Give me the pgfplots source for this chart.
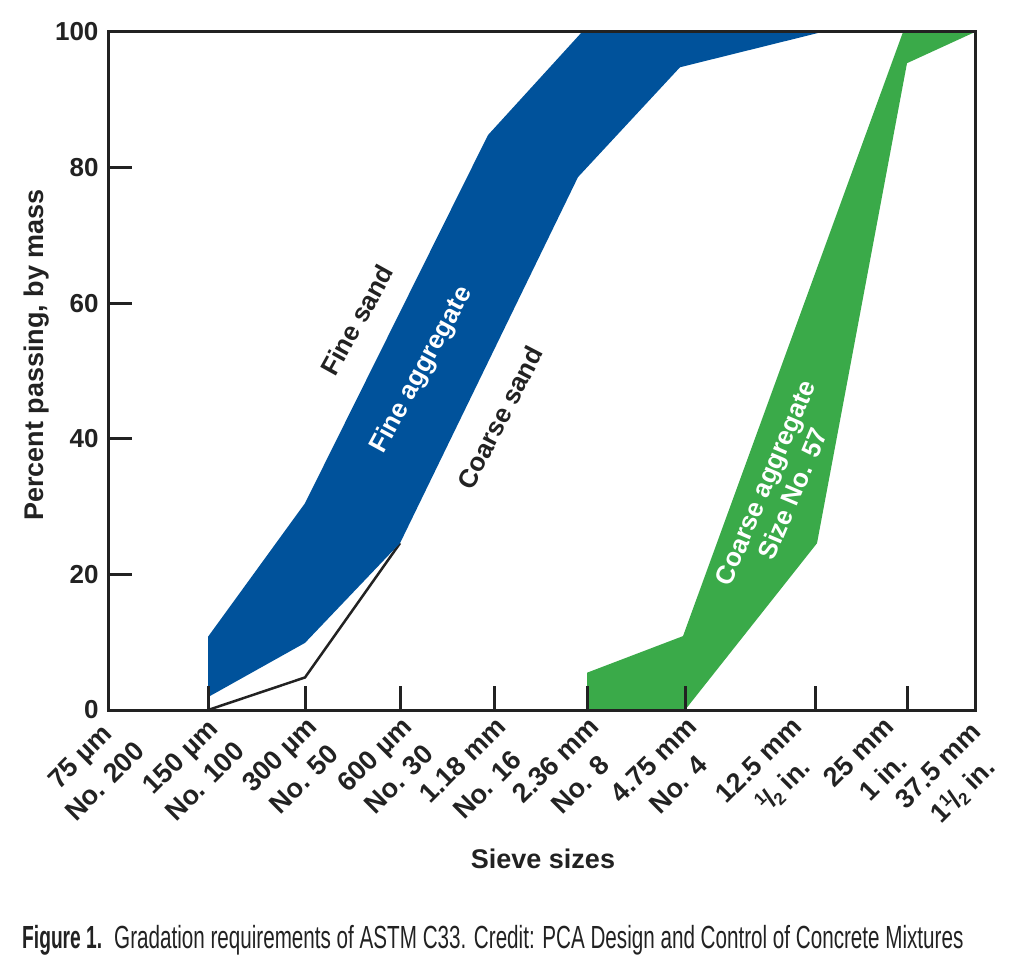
\documentclass[border=0pt]{standalone}
\usepackage{fontspec}
\setmainfont{Liberation Sans}
\newfontfamily\capfont[FakeStretch=0.645]{Liberation Sans}
\newfontfamily\capbfont[FakeStretch=0.6]{Liberation Sans}
\usepackage{pgfplots}
\pgfplotsset{compat=1.18}
\definecolor{fblue}{HTML}{00529B}
\definecolor{fgreen}{HTML}{3AAA49}
\definecolor{ink}{HTML}{222222}
\newcommand{\half}{\raisebox{0.35em}{\fontsize{17}{17}\selectfont 1}\kern-0.05em/\kern-0.05em\raisebox{-0.15em}{\fontsize{17}{17}\selectfont 2}}

\begin{document}
\begin{tikzpicture}[x=1pt,y=1pt]
\path[use as bounding box] (0,0) rectangle (1017,-973);
\begin{axis}[
  at={(108pt,-710pt)}, anchor=south west,
  scale only axis, width=867pt, height=678pt,
  xmin=108, xmax=975, ymin=0, ymax=100,
  axis on top,
  axis line style={line width=3pt, color=ink},
  tick align=inside, tick pos=left,
  major tick length=24pt,
  tick style={line width=3pt, color=ink},
  xtick={108,208,305,400,494,587,685,975},
  xticklabels={{75 µm\\No. 200},{150 µm\\No. 100},{300 µm\\No. 50},{600 µm\\No. 30},{1.18 mm\\No. 16},{2.36 mm\\No. 8},{4.75 mm\\No. 4},{37.5 mm\hspace*{8pt}\\1\half\ in.\hspace*{8pt}}},
  extra x ticks={815,907},
  extra x tick labels={{12.5 mm\\\half\ in.},{25 mm\\1 in.}},
  extra x tick style={xticklabel style={xshift=-17.7pt, yshift=17.7pt}},
  ytick={0,20,40,60,80,100},
  /pgf/number format/assume math mode=true,
  yticklabel style={font=\fontsize{26}{30}\selectfont\bfseries, color=ink, xshift=-6pt},
  xticklabel style={font=\fontsize{27}{35}\selectfont\bfseries, color=ink, rotate=45, anchor=north east, align=center},
]
\addplot[ink, line width=2.5pt] coordinates {(208,0) (305,4.8) (400,24.6)};
\addplot[fill=fblue, draw=none] coordinates {(208,1.9) (208,10.8) (305,30.5) (488,84.8) (582,100) (822,100) (680,94.8) (578,78.6) (400,24.6) (305,9.9)} --cycle;
\addplot[fill=fgreen, draw=none] coordinates {(587,0) (587,5.5) (683,10.9) (903,100) (975,100) (907,95.4) (817,24.6) (685,0)} --cycle;
\node[rotate=61, font=\fontsize{26}{30}\selectfont\bfseries, color=ink] at (axis cs:357,57.5) {Fine sand};
\node[rotate=61.5, font=\fontsize{26}{30}\selectfont\bfseries, color=white] at (axis cs:422,50.1) {Fine aggregate};
\node[rotate=62.5, font=\fontsize{26}{30}\selectfont\bfseries, color=ink] at (axis cs:500,43.1) {Coarse sand};
\node[rotate=67, font=\fontsize{26}{30}\selectfont\bfseries, color=white, align=center] at (axis cs:779,32.7) {Coarse aggregate\\Size No. 57};
\end{axis}
\node[rotate=90, font=\fontsize{27}{32}\selectfont\bfseries, color=ink] at (37,-355) {Percent passing, by mass};
\node[font=\fontsize{27}{32}\selectfont\bfseries, color=ink] at (543,-859) {Sieve sizes};
\node[anchor=base west, inner sep=0pt, font=\fontsize{32}{36}\selectfont, color=ink] at (22,-948) {{\capbfont\bfseries Figure 1.}\hspace{12pt}{\capfont Gradation requirements of ASTM C33. Credit: PCA Design and Control of Concrete Mixtures}};
\end{tikzpicture}
\end{document}
